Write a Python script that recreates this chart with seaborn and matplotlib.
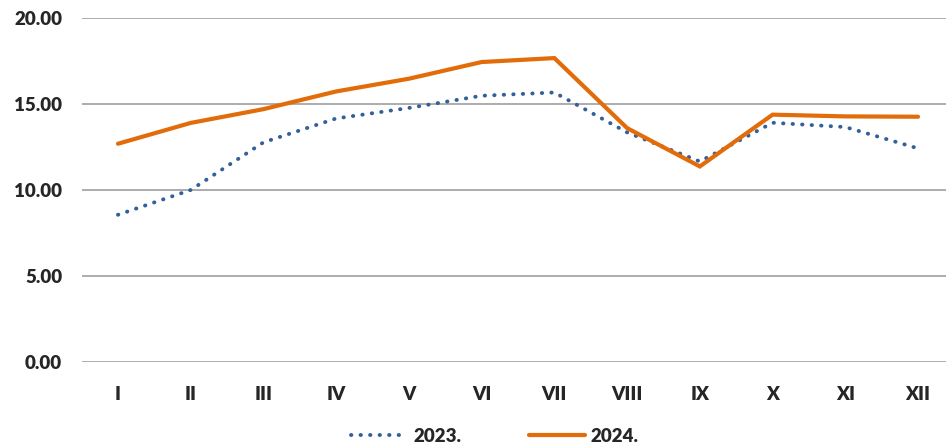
import numpy as np
import matplotlib
matplotlib.use("Agg")
import matplotlib.pyplot as plt
import seaborn as sns
import pandas as pd

months = ["I", "II", "III", "IV", "V", "VI", "VII", "VIII", "IX", "X", "XI", "XII"]
vals_2023 = [8.56, 10.0, 12.77, 14.16, 14.77, 15.48, 15.67, 13.35, 11.66, 13.91, 13.66, 12.42]
vals_2024 = [12.69, 13.9, 14.7, 15.73, 16.47, 17.44, 17.67, 13.6, 11.37, 14.38, 14.28, 14.26]
yticks = [0, 5, 10, 15, 20]

sns.set_style("white")
plt.rcParams['font.family'] = ['Lato', 'DejaVu Sans']
plt.rcParams['font.weight'] = 'heavy'

fig = plt.figure(figsize=(9.46, 4.45), dpi=100)
ax = fig.add_axes([81.6 / 946, 83 / 445, 872.8 / 946, 344 / 445])

df = pd.DataFrame({"month": months, "2023.": vals_2023, "2024.": vals_2024})

for y in yticks:
    ax.axhline(y, color="#a6a6a6", lw=1.3, zorder=0)

sns.lineplot(data=df, x="month", y="2023.", ax=ax, color="#34609a", lw=2.8,
             label="2023.", sort=False)
sns.lineplot(data=df, x="month", y="2024.", ax=ax, color="#e36c0a", lw=3.0,
             label="2024.", sort=False)
l23, l24 = ax.get_lines()[-2:]
l23.set_linestyle((0, (0.1, 2.35)))
l23.set_dash_capstyle("round")
l24.set_solid_capstyle("round")
l24.set_solid_joinstyle("miter")

ax.set_xlim(-0.5, 11.5)
ax.set_ylim(0, 20)
ax.set_yticks(yticks)
ax.set_yticklabels([f"{v:.2f}" for v in yticks])
ax.tick_params(axis="y", length=0, pad=14, labelsize=13.5)
ax.tick_params(axis="x", length=0, pad=17, labelsize=13.5)
for lab in ax.get_xticklabels() + ax.get_yticklabels():
    lab.set_fontweight("heavy")
ax.set_xlabel("")
ax.set_ylabel("")
sns.despine(ax=ax, left=True, bottom=True)

ax.get_legend().remove()
handles, labels = ax.get_legend_handles_labels()
fig.legend(handles, labels, loc="center", bbox_to_anchor=(495 / 946, 9 / 445),
           ncol=2, frameon=False, handlelength=3.0, columnspacing=3.6,
           handletextpad=0.3, prop={"weight": "heavy", "size": 13.5})

fig.savefig("out.png", dpi=100)
